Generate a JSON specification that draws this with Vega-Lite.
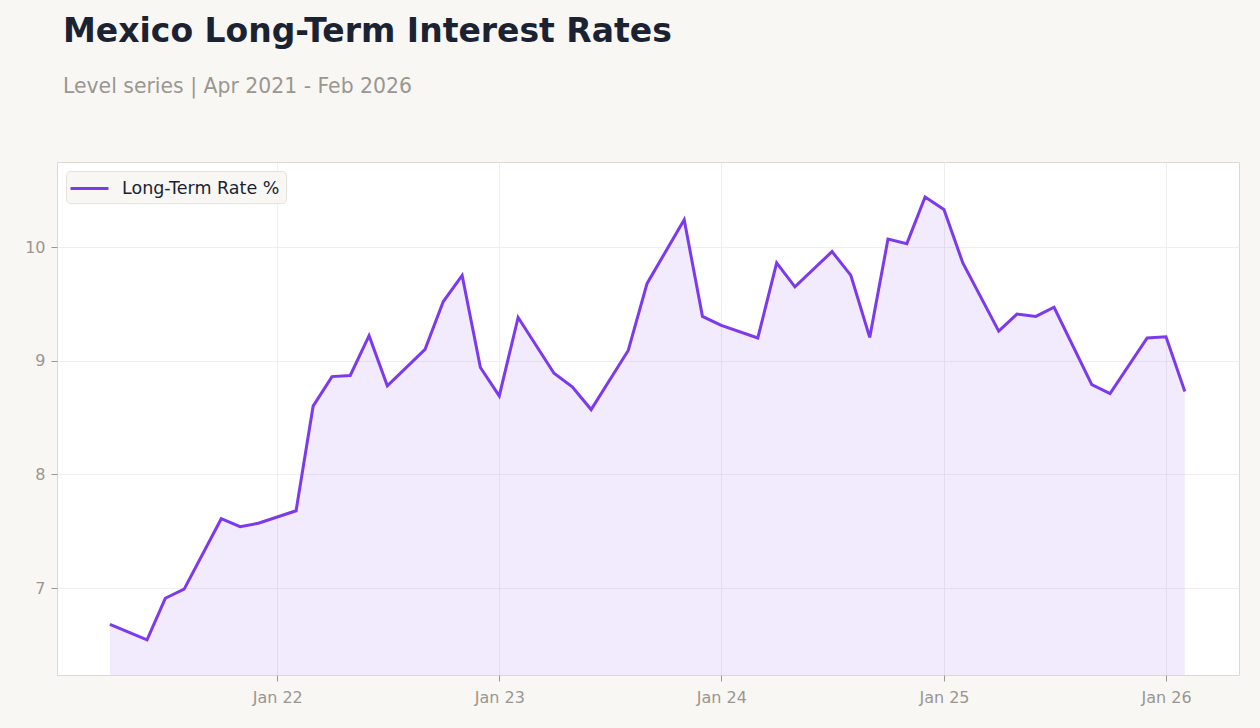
{
  "$schema": "https://vega.github.io/schema/vega-lite/v6.json",
  "width": 1182,
  "height": 513,
  "autosize": {"type": "none"},
  "padding": {"left": 57, "top": 162, "right": 21, "bottom": 53},
  "background": "#f9f7f4",
  "title": {
    "text": "Mexico Long-Term Interest Rates",
    "subtitle": "Level series | Apr 2021 - Feb 2026",
    "anchor": "start",
    "frame": "group",
    "dx": 6,
    "offset": 65,
    "font": "DejaVu Sans",
    "fontSize": 33,
    "fontWeight": "bold",
    "color": "#1b2333",
    "subtitleFont": "DejaVu Sans",
    "subtitleFontSize": 20.4,
    "subtitleColor": "#9a9690",
    "subtitlePadding": 28
  },
  "config": {
    "view": {"stroke": "#dcd8d2", "fill": "#ffffff"},
    "font": "DejaVu Sans",
    "axis": {
      "domain": false,
      "gridColor": "#eeebe8",
      "gridWidth": 0.8,
      "labelColor": "#9a9690",
      "labelFontSize": 16,
      "labelFont": "DejaVu Sans",
      "tickColor": "#9a9690",
      "tickSize": 6,
      "title": null
    },
    "legend": {
      "orient": "top-left",
      "offset": 9,
      "fillColor": "#f9f7f4",
      "strokeColor": "#e6e1db",
      "cornerRadius": 4,
      "padding": 6,
      "labelFontSize": 17.5,
      "labelColor": "#1b2333",
      "labelFont": "DejaVu Sans",
      "labelOffset": 27,
      "symbolType": "M-1.3,0H2.5",
      "symbolStrokeWidth": 3,
      "symbolSize": 400,
      "title": null
    }
  },
  "data": {
    "values": [
      {"date": "2021-04-01", "rate": 6.68},
      {"date": "2021-06-01", "rate": 6.545},
      {"date": "2021-07-01", "rate": 6.91},
      {"date": "2021-08-01", "rate": 6.99},
      {"date": "2021-10-01", "rate": 7.61},
      {"date": "2021-11-01", "rate": 7.54},
      {"date": "2021-12-01", "rate": 7.57},
      {"date": "2022-02-01", "rate": 7.68},
      {"date": "2022-03-01", "rate": 8.6},
      {"date": "2022-04-01", "rate": 8.86},
      {"date": "2022-05-01", "rate": 8.87},
      {"date": "2022-06-01", "rate": 9.22},
      {"date": "2022-07-01", "rate": 8.78},
      {"date": "2022-09-01", "rate": 9.1},
      {"date": "2022-10-01", "rate": 9.52},
      {"date": "2022-11-01", "rate": 9.75},
      {"date": "2022-12-01", "rate": 8.94},
      {"date": "2023-01-01", "rate": 8.69},
      {"date": "2023-02-01", "rate": 9.38},
      {"date": "2023-04-01", "rate": 8.89},
      {"date": "2023-05-01", "rate": 8.77},
      {"date": "2023-06-01", "rate": 8.57},
      {"date": "2023-08-01", "rate": 9.09},
      {"date": "2023-09-01", "rate": 9.68},
      {"date": "2023-11-01", "rate": 10.24},
      {"date": "2023-12-01", "rate": 9.39},
      {"date": "2024-01-01", "rate": 9.31},
      {"date": "2024-03-01", "rate": 9.2},
      {"date": "2024-04-01", "rate": 9.86},
      {"date": "2024-05-01", "rate": 9.65},
      {"date": "2024-07-01", "rate": 9.96},
      {"date": "2024-08-01", "rate": 9.75},
      {"date": "2024-09-01", "rate": 9.205},
      {"date": "2024-10-01", "rate": 10.07},
      {"date": "2024-11-01", "rate": 10.03},
      {"date": "2024-12-01", "rate": 10.44},
      {"date": "2025-01-01", "rate": 10.33},
      {"date": "2025-02-01", "rate": 9.86},
      {"date": "2025-04-01", "rate": 9.26},
      {"date": "2025-05-01", "rate": 9.41},
      {"date": "2025-06-01", "rate": 9.39},
      {"date": "2025-07-01", "rate": 9.47},
      {"date": "2025-09-01", "rate": 8.79},
      {"date": "2025-10-01", "rate": 8.71},
      {"date": "2025-12-01", "rate": 9.2},
      {"date": "2026-01-01", "rate": 9.21},
      {"date": "2026-02-01", "rate": 8.73}
    ]
  },
  "encoding": {
    "x": {
      "field": "date",
      "type": "temporal",
      "scale": {
        "type": "utc",
        "domain": [
          {"year": 2021, "month": 1, "date": 4, "utc": true},
          {"year": 2026, "month": 5, "date": 1, "utc": true}
        ]
      },
      "axis": {
        "values": [
          {"year": 2022, "month": 1, "date": 1, "utc": true},
          {"year": 2023, "month": 1, "date": 1, "utc": true},
          {"year": 2024, "month": 1, "date": 1, "utc": true},
          {"year": 2025, "month": 1, "date": 1, "utc": true},
          {"year": 2026, "month": 1, "date": 1, "utc": true}
        ],
        "labelExpr": "utcFormat(datum.value, '%b %y')",
        "labelPadding": 8
      }
    },
    "y": {
      "field": "rate",
      "type": "quantitative",
      "scale": {"domain": [6.235, 10.748], "nice": false, "zero": false},
      "axis": {"values": [7, 8, 9, 10], "labelPadding": 6}
    }
  },
  "layer": [
    {
      "mark": {"type": "area", "color": "#7c3aed", "opacity": 0.1, "clip": true}
    },
    {
      "mark": {"type": "line", "strokeWidth": 3, "clip": true},
      "encoding": {
        "color": {
          "datum": "Long-Term Rate %",
          "type": "nominal",
          "scale": {"range": ["#7c3aed"]}
        }
      }
    }
  ]
}
